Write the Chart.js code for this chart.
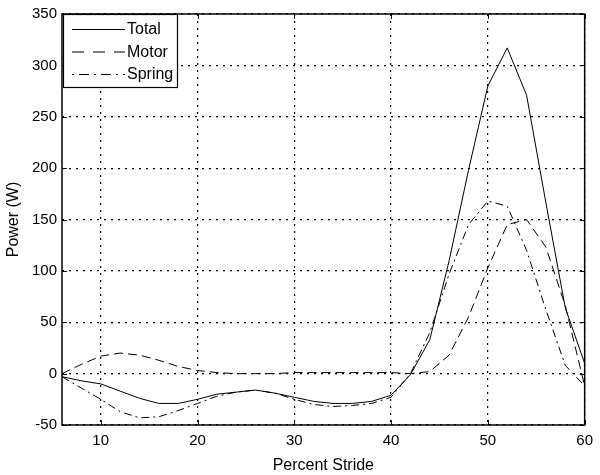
<!DOCTYPE html>
<html>
<head>
<meta charset="utf-8">
<script src="https://cdn.jsdelivr.net/npm/chart.js@4.4.1/dist/chart.umd.min.js"></script>
<style>
html,body{margin:0;padding:0;background:#fff;}
#wrap{width:600px;height:475px;}
</style>
</head>
<body>
<div id="wrap"><canvas id="c" width="600" height="475"></canvas></div>
<script>
const percentStride = [6,8,10,12,14,16,18,20,22,24,26,28,30,32,34,36,38,40,42,44,46,48,50,52,54,56,58,60];
const totalPower  = [-3,-7,-10,-17,-24,-29,-29,-25,-20,-18,-16,-19,-23,-27,-29,-29,-27,-21,-1,33,110,198,280,317,271,166,64,10];
const motorPower  = [0,9,17,20,18,13,7,3,1,0,0,0,1,1,1,1,1,1,0,2,18,55,103,145,150,123,66,-12];
const springPower = [-3,-14,-25,-37,-43,-42,-36,-29,-22,-18,-16,-19,-25,-30,-32,-31,-29,-23,0,40,97,145,168,163,120,62,8,-12];
const xTicks = [10,20,30,40,50,60];
const yTicks = [-50,0,50,100,150,200,250,300,350];
const seriesNames = ['Total','Motor','Spring'];

const FONT = '"Liberation Sans", Arial, Helvetica, sans-serif';
const plotDashes = [[], [9,5], [8,4,2,4]];
const legendDashes = [[], [12,9], [2,5,10,5]];

function pts(ys){ return percentStride.map((x,i)=>({x:x,y:ys[i]})); }

const boxPlugin = {
  id:'box',
  afterDraw(chart){
    const {ctx, chartArea:a} = chart;
    ctx.save();
    ctx.strokeStyle='#000'; ctx.lineWidth=1.5; ctx.setLineDash([]);
    ctx.strokeRect(a.left, a.top, a.right-a.left, a.bottom-a.top);
    ctx.lineWidth=1;
    const xs = chart.scales.x, ys = chart.scales.y;
    ctx.beginPath();
    xTicks.forEach(v=>{const p=Math.round(xs.getPixelForValue(v))+0.5;
      ctx.moveTo(p,a.bottom); ctx.lineTo(p,a.bottom-5);
      ctx.moveTo(p,a.top); ctx.lineTo(p,a.top+5);});
    yTicks.forEach(v=>{const p=Math.round(ys.getPixelForValue(v))+0.5;
      ctx.moveTo(a.left,p); ctx.lineTo(a.left+5,p);
      ctx.moveTo(a.right,p); ctx.lineTo(a.right-5,p);});
    ctx.stroke();
    // legend
    const lx=a.left+1, ly=a.top, lw=114, lh=73;
    ctx.fillStyle='#fff'; ctx.fillRect(lx,ly,lw,lh);
    ctx.lineWidth=1.2; ctx.strokeRect(lx+0.5,ly+0.5,lw,lh);
    ctx.font='16px '+FONT; ctx.textBaseline='middle'; ctx.fillStyle='#000';
    seriesNames.forEach((n,i)=>{
      const yy = ly+15+i*22.5;
      ctx.beginPath(); ctx.setLineDash(legendDashes[i]); ctx.lineWidth=1;
      ctx.moveTo(lx+9,yy+0.5); ctx.lineTo(lx+62,yy+0.5); ctx.stroke();
      ctx.setLineDash([]);
      ctx.fillText(n, lx+64, yy+1);
    });
    ctx.restore();
  }
};

new Chart(document.getElementById('c'), {
  type:'line',
  data:{datasets:[
    {label:seriesNames[0], data:pts(totalPower), borderColor:'#000', borderWidth:1, borderDash:plotDashes[0], pointRadius:0, tension:0, fill:false},
    {label:seriesNames[1], data:pts(motorPower), borderColor:'#000', borderWidth:1, borderDash:plotDashes[1], pointRadius:0, tension:0, fill:false},
    {label:seriesNames[2], data:pts(springPower), borderColor:'#000', borderWidth:1, borderDash:plotDashes[2], pointRadius:0, tension:0, fill:false}
  ]},
  options:{
    responsive:false, animation:false, devicePixelRatio:1,
    layout:{padding:{top:12,right:15,left:0,bottom:0}},
    plugins:{legend:{display:false}, tooltip:{enabled:false}},
    scales:{
      x:{type:'linear', min:6, max:60,
        afterBuildTicks(s){ s.ticks = xTicks.map(v=>({value:v})); },
        afterFit(s){ s.height = 50; },
        grid:{color:'#000', lineWidth:1.2, drawTicks:false, tickLength:0},
        border:{display:false, dash:[2,5]},
        ticks:{color:'#000', font:{size:15, family:FONT}, padding:7, maxRotation:0},
        title:{display:true, text:'Percent Stride', color:'#000', font:{size:16, family:FONT}, padding:{top:1,bottom:0}}
      },
      y:{type:'linear', min:-50, max:350,
        afterBuildTicks(s){ s.ticks = yTicks.map(v=>({value:v})); },
        afterFit(s){ s.width = 62; },
        grid:{color:'#000', lineWidth:1.2, drawTicks:false, tickLength:0},
        border:{display:false, dash:[2,5]},
        ticks:{color:'#000', font:{size:15, family:FONT}, padding:5},
        title:{display:true, text:'Power (W)', color:'#000', font:{size:16, family:FONT}, padding:{top:4,bottom:2}}
      }
    }
  },
  plugins:[boxPlugin]
});
</script>
</body>
</html>
